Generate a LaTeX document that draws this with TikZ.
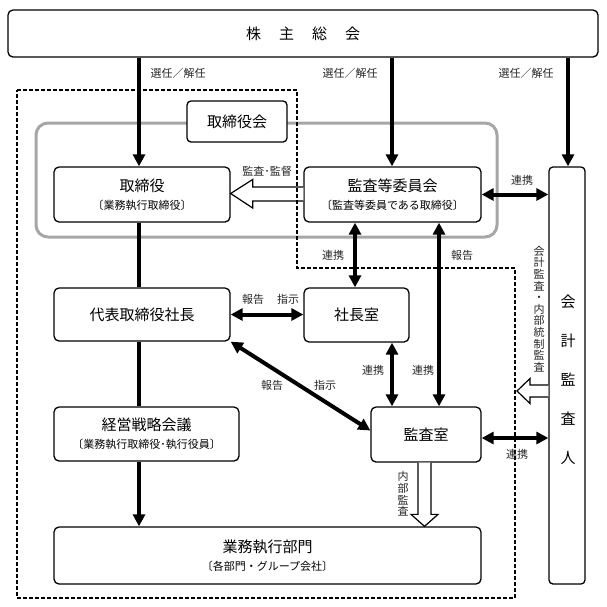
\documentclass[tikz,border=0pt]{standalone}
\usepackage{fontspec}
\setmainfont{Noto Sans CJK JP}
\usetikzlibrary{arrows.meta,calc}
\tikzset{
  box/.style={draw, line width=1.3pt, rounded corners=5pt, fill=white, inner sep=0pt, align=center, font=\fontsize{15}{17}\selectfont},
  lbl/.style={font=\fontsize{11}{12}\selectfont, inner sep=0pt, text=black!85},
  vlbl/.style={font=\fontsize{11}{11.6}\selectfont, align=center, inner sep=0pt, text=black!85},
  conn/.style={line width=4pt, -{Triangle[length=12pt,width=12pt]}},
  biconn/.style={line width=4pt, {Triangle[length=12pt,width=12pt]}-{Triangle[length=12pt,width=12pt]}},
  plainconn/.style={line width=4pt},
  hollow/.style={draw, line width=1.2pt, fill=white, line join=miter},
  region/.style={draw, line width=1.3pt, dash pattern=on 4pt off 2pt},
  grouprect/.style={draw=black!35, line width=3pt, rounded corners=12pt},
}
\newcommand{\subtxt}[1]{{\fontsize{11}{13}\selectfont #1}}
\begin{document}
\begin{tikzpicture}[x=1pt,y=-1pt]
\useasboundingbox (0,0) rectangle (607,606);

% group rectangle of the board
\draw[grouprect] (36,123) rectangle (497,237);

% nodes
\node[box, minimum width=590pt, minimum height=47pt] (kabu) at (303,33.5)
  {株\hspace{18pt}主\hspace{18pt}総\hspace{18pt}会};
\node[box, rounded corners=4pt, minimum width=100pt, minimum height=41pt] (torikai) at (237,121.5) {取締役会};
\node[box, minimum width=176pt, minimum height=55pt] (tori) at (142,194.5)
  {取締役\\[1pt]\subtxt{〔業務執行取締役〕}};
\node[box, minimum width=177pt, minimum height=55pt] (kansa) at (392.5,194.5)
  {監査等委員会\\[1pt]\subtxt{〔監査等委員である取締役〕}};
\node[box, rounded corners=4pt, minimum width=36pt, minimum height=417pt] (kaikei) at (567,375.5) {};
\node[font=\fontsize{15}{39}\selectfont, align=center, inner sep=0pt] (kaikeitxt) at (568,380)
  {会\\計\\監\\査\\人};
\node[box, minimum width=176pt, minimum height=53pt] (daihyo) at (142,314.5) {代表取締役社長};
\node[box, minimum width=105pt, minimum height=54pt] (shacho) at (356.5,315) {社長室};
\node[box, minimum width=185pt, minimum height=54pt] (keiei) at (146.5,434)
  {経営戦略会議\\[1pt]\subtxt{〔業務執行取締役･執行役員〕}};
\node[box, minimum width=110pt, minimum height=55pt] (shitsu) at (426,434.5) {監査室};
\node[box, minimum width=427pt, minimum height=57pt] (gyomu) at (267.5,555.5)
  {業務執行部門\\[1pt]\subtxt{〔各部門・グループ会社〕}};

% helper x positions
\coordinate (xL) at (139,0);
\coordinate (xM) at (392,0);
\coordinate (xR) at (568,0);
\coordinate (xA) at (355,0);
\coordinate (xB) at (439,0);

% connectors
\draw[conn] (kabu.south -| xL) -- (tori.north -| xL);
\draw[conn] (kabu.south -| xM) -- (kansa.north -| xM);
\draw[conn] (kabu.south -| xR) -- (kaikei.north -| xR);
\draw[plainconn] (tori.south -| xL) -- (daihyo.north -| xL);
\draw[plainconn] (daihyo.south -| xL) -- (keiei.north -| xL);
\draw[conn] (keiei.south -| xL) -- (gyomu.north -| xL);
\draw[biconn] (kansa.east) -- (kansa.east -| kaikei.west);
\draw[biconn] (kansa.south -| xA) -- (shacho.north -| xA);
\draw[biconn] (kansa.south -| xB) -- (shitsu.north -| xB);
\draw[biconn] (shacho.south -| xM) -- (shitsu.north -| xM);
\draw[biconn] (daihyo.east) -- (daihyo.east -| shacho.west);
\draw[biconn] (daihyo.south east) -- ($(shitsu.west)+(0,-4)$);
\coordinate (s3) at ($(shitsu.east)+(0,3.5)$);
\draw[biconn] (s3) -- (s3 -| kaikei.west);

% hollow arrows
% kansa -> tori (監査・監督)
\path[hollow] ($(kansa.west)+(0,-7.5)$) -- ($(tori.east)+(22,-7.5)$) -- ($(tori.east)+(22,-15)$)
  -- ($(tori.east)+(0,-1)$) -- ($(tori.east)+(22,13.5)$) -- ($(tori.east)+(22,6.5)$) -- ($(kansa.west)+(0,6.5)$);
% shitsu -> gyomu (内部監査)
\coordinate (xH) at (424.5,0);
\path[hollow] ($(shitsu.south -| xH)+(-6.5,0)$) -- ($(gyomu.north -| xH)+(-6.5,-12)$) -- ($(gyomu.north -| xH)+(-13.5,-12)$)
  -- (gyomu.north -| xH) -- ($(gyomu.north -| xH)+(13.5,-12)$) -- ($(gyomu.north -| xH)+(6.5,-12)$) -- ($(shitsu.south -| xH)+(6.5,0)$);
% kaikei -> audited region (会計監査・内部統制監査)
\coordinate (yH) at (0,391);
\coordinate (tipH) at (517,391);
\path[hollow] ($(kaikei.west |- yH)+(0,-6)$) -- ($(tipH)+(13,-6)$) -- ($(tipH)+(13,-12.5)$)
  -- (tipH) -- ($(tipH)+(13,12.5)$) -- ($(tipH)+(13,6)$) -- ($(kaikei.west |- yH)+(0,6)$);

% dashed region of execution
\draw[region] (17,90) -- (297,90) -- (297,268) -- (515,268) -- (515,598) -- (17,598) -- cycle;

% labels
\node[lbl] (l1) at (178,73) {選任／解任};
\node[lbl] (l2) at (350,73) {選任／解任};
\node[lbl] (l3) at (526,73) {選任／解任};
\node[lbl] (l4) at (267,171) {監査･監督};
\node[lbl] (l5) at (522,180) {連携};
\node[lbl] (l6) at (333,255) {連携};
\node[lbl] (l7) at (462,255) {報告};
\node[lbl] (l8) at (253,299) {報告};
\node[lbl] (l9) at (288,299) {指示};
\node[lbl] (l10) at (373,370) {連携};
\node[lbl] (l11) at (423,370) {連携};
\node[lbl] (l12) at (272,385) {報告};
\node[lbl] (l13) at (325,385) {指示};
\node[lbl] (l14) at (517,454) {連携};
\node[vlbl] (l15) at (403,494) {内\\部\\監\\査};
\node[vlbl] (l16) at (539,309) {会\\計\\監\\査\\・\\内\\部\\統\\制\\監\\査};
\end{tikzpicture}
\end{document}
